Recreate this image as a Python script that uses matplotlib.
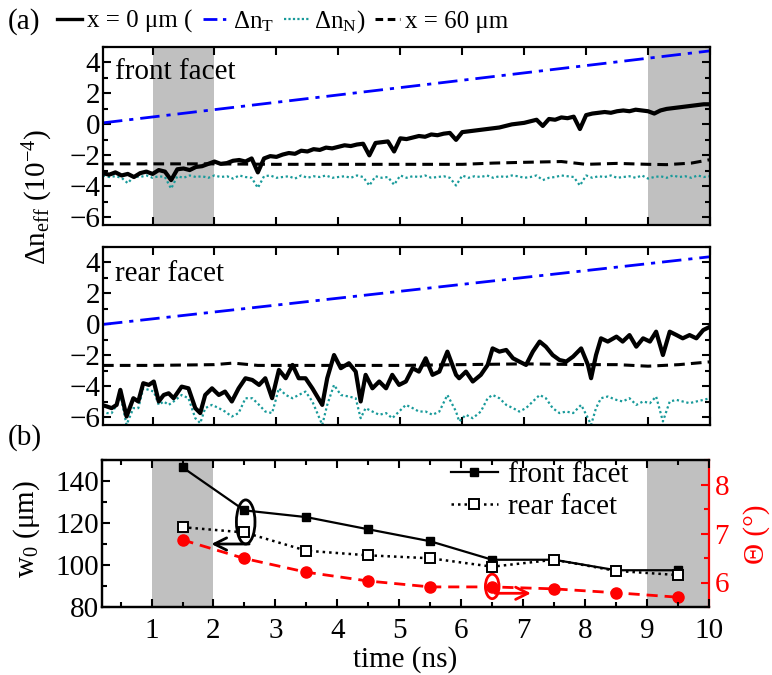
import numpy as np
import matplotlib
matplotlib.use('Agg')
import matplotlib.pyplot as plt
from matplotlib.patches import Ellipse
from matplotlib.ticker import MultipleLocator
from matplotlib.lines import Line2D

plt.rcParams['font.family'] = ['Liberation Serif', 'DejaVu Serif']
plt.rcParams['mathtext.fontset'] = 'custom'
plt.rcParams['mathtext.rm'] = 'Liberation Serif'
plt.rcParams['mathtext.it'] = 'Liberation Serif:italic'
plt.rcParams['mathtext.default'] = 'rm'
plt.rcParams['font.size'] = 21

# ---------------- data ----------------
# (a) front facet, sampled every 0.1 ns from 0.2 to 10 ns
t_front = np.round(np.linspace(0.2, 10.0, 99), 2)
front_x0 = [-3.15, -3.25, -3.10, -3.30, -3.20, -3.40, -3.15, -3.05, -3.20, -2.95,
            -3.05, -3.60, -2.90, -2.85, -2.95, -2.75, -2.70, -2.55, -2.40, -2.55,
            -2.50, -2.35, -2.30, -2.40, -2.20, -3.10, -2.20, -2.05, -2.10, -1.95,
            -1.85, -1.90, -1.70, -1.75, -1.60, -1.65, -1.50, -1.55, -1.45, -1.35,
            -1.40, -1.30, -1.25, -2.00, -1.20, -1.15, -1.10, -1.75, -0.90, -0.95,
            -0.85, -0.75, -0.80, -0.65, -0.70, -0.60, -0.55, -1.00, -0.50, -0.45,
            -0.40, -0.35, -0.30, -0.25, -0.20, -0.10, 0.00, 0.05, 0.10, 0.20,
            0.30, -0.10, 0.35, 0.30, 0.45, 0.40, 0.50, -0.30, 0.60, 0.70,
            0.75, 0.80, 0.75, 0.85, 0.90, 0.85, 0.95, 0.90, 0.85, 0.70,
            0.90, 1.00, 1.05, 1.10, 1.15, 1.20, 1.25, 1.30, 1.30]
front_N = [-3.30, -3.40, -3.35, -3.45, -3.80, -3.35, -3.40, -3.30, -3.45, -3.35,
           -3.40, -4.15, -3.35, -3.45, -3.30, -3.40, -3.35, -3.45, -3.30, -3.40,
           -3.35, -3.50, -3.30, -3.40, -3.45, -4.10, -3.35, -3.30, -3.45, -3.40,
           -3.35, -3.50, -3.30, -3.45, -3.35, -3.40, -3.30, -3.45, -3.40, -3.35,
           -3.45, -3.30, -3.40, -3.95, -3.35, -3.45, -3.40, -3.90, -3.30, -3.45,
           -3.35, -3.40, -3.30, -3.45, -3.40, -3.35, -3.45, -3.95, -3.30, -3.45,
           -3.35, -3.40, -3.30, -3.45, -3.35, -3.40, -3.30, -3.35, -3.45, -3.40,
           -3.30, -3.60, -3.45, -3.40, -3.30, -3.35, -3.40, -3.95, -3.30, -3.45,
           -3.35, -3.40, -3.30, -3.45, -3.40, -3.35, -3.45, -3.30, -3.50, -3.40,
           -3.35, -3.45, -3.30, -3.40, -3.35, -3.45, -3.30, -3.40, -3.35]
t_front60 = [0.2, 1.0, 2.0, 3.0, 4.0, 5.0, 6.0, 6.5, 7.0, 7.6, 8.0, 8.5, 9.0, 9.3, 9.7, 10.0]
front_x60 = [-2.55, -2.55, -2.55, -2.58, -2.58, -2.58, -2.58, -2.50, -2.45, -2.40, -2.58,
             -2.52, -2.58, -2.60, -2.50, -2.28]
t_T = [0.2, 10.0]
front_T = [0.10, 4.75]
rear_T = [0.00, 4.37]

# (a) rear facet
t_rear = [0.18, 0.26, 0.34, 0.42, 0.48, 0.58, 0.69, 0.77, 0.85, 0.94,
          1.02, 1.10, 1.18, 1.26, 1.34, 1.47, 1.58, 1.69, 1.77, 1.85,
          1.96, 2.07, 2.17, 2.28, 2.39, 2.50, 2.61, 2.72, 2.82, 2.93,
          3.04, 3.15, 3.26, 3.36, 3.47, 3.58, 3.74, 3.82, 3.93, 4.04,
          4.17, 4.28, 4.36, 4.44, 4.55, 4.66, 4.77, 4.87, 4.98, 5.09,
          5.20, 5.30, 5.41, 5.52, 5.63, 5.76, 5.90, 5.95, 6.06, 6.17,
          6.30, 6.41, 6.49, 6.60, 6.71, 6.82, 6.92, 7.03, 7.14, 7.25,
          7.35, 7.46, 7.57, 7.68, 7.79, 7.92, 8.03, 8.08, 8.16, 8.24,
          8.35, 8.49, 8.59, 8.70, 8.81, 8.92, 9.03, 9.13, 9.24, 9.35,
          9.46, 9.56, 9.67, 9.78, 9.89, 10.0]
rear_x0 = [-5.20, -5.30, -5.41, -5.20, -4.23, -5.95, -4.77, -4.98, -3.80, -3.91,
           -3.69, -4.98, -4.56, -4.45, -4.77, -4.02, -4.13, -5.41, -5.73, -4.56,
           -4.13, -4.56, -4.34, -4.98, -4.13, -3.48, -3.59, -3.91, -3.48, -4.77,
           -2.94, -3.48, -2.62, -3.48, -3.48, -4.13, -5.20, -3.48, -1.98, -2.83,
           -2.51, -3.05, -4.98, -3.26, -4.13, -3.69, -4.13, -3.26, -3.91, -3.69,
           -2.83, -3.05, -2.19, -3.26, -3.05, -1.76, -3.26, -3.48, -3.05, -3.69,
           -3.26, -2.62, -1.55, -1.76, -1.65, -2.19, -2.40, -2.62, -1.76, -1.11,
           -1.44, -1.98, -2.30, -2.40, -2.08, -1.55, -2.62, -3.48, -1.98, -0.90,
           -1.11, -0.79, -1.11, -0.69, -1.44, -0.90, -1.11, -0.47, -1.98, -0.47,
           -0.69, -0.90, -0.69, -0.90, -0.37, -0.15]
rear_N = [-5.63, -5.73, -5.73, -5.20, -4.56, -6.49, -5.41, -5.41, -4.13, -4.23,
          -4.34, -5.20, -4.98, -5.20, -4.98, -4.56, -4.77, -6.06, -6.38, -5.41,
          -5.20, -5.41, -5.63, -5.95, -5.73, -4.77, -4.77, -5.20, -5.63, -5.73,
          -4.13, -4.56, -4.77, -4.56, -4.34, -4.98, -6.49, -5.20, -3.91, -4.56,
          -4.66, -4.77, -6.06, -5.41, -5.63, -5.84, -5.73, -6.06, -5.63, -5.20,
          -5.41, -5.63, -5.63, -5.84, -5.63, -4.56, -5.63, -6.27, -5.84, -6.06,
          -5.63, -4.77, -4.56, -4.77, -5.20, -5.41, -5.63, -5.41, -4.98, -4.56,
          -4.77, -5.41, -5.73, -5.63, -5.73, -5.20, -6.06, -6.49, -5.41, -4.77,
          -4.66, -4.88, -4.98, -4.77, -5.20, -4.98, -5.09, -4.66, -6.27, -4.98,
          -4.88, -4.98, -5.09, -4.98, -4.88, -4.77]
t_rear60 = [0.2, 1.0, 2.0, 2.3, 2.7, 4.0, 5.0, 6.0, 7.0, 8.0, 8.5, 9.0, 9.5, 10.0]
rear_x60 = [-2.65, -2.65, -2.60, -2.50, -2.65, -2.65, -2.65, -2.60, -2.55, -2.60,
            -2.60, -2.70, -2.60, -2.42]

# (b)
t_b = [1.5, 2.5, 3.5, 4.5, 5.5, 6.5, 7.5, 8.5, 9.5]
w0_front = [146.5, 126.0, 122.8, 117.0, 111.3, 102.5, 102.5, 97.5, 97.5]
w0_rear = [118.0, 115.5, 106.8, 104.6, 103.2, 99.2, 102.5, 97.2, 95.2]
theta = [6.87, 6.49, 6.21, 6.03, 5.91, 5.91, 5.87, 5.79, 5.70]

shade_spans = [(1, 2), (9, 10)]

# ---------------- plotting ----------------
GREY = '#c0c0c0'
BLUE = '#0000ff'
TEAL = '#189a9a'
RED = '#ff0000'
DASHDOT = (7, 2.5, 1.5, 2.5)

fig = plt.figure(figsize=(7.72, 6.75), dpi=100)
ax1 = fig.add_axes([103/772, 1-225/675, 607/772, 178/675])
ax2 = fig.add_axes([103/772, 1-425/675, 607/772, 178/675])
ax4 = fig.add_axes([102/772, 1-607/675, 607/772, 147/675])   # right (Theta) axis, drawn underneath
ax3 = fig.add_axes([102/772, 1-607/675, 607/772, 147/675])   # left (w0) axis on top

def style_axis(ax, right=True):
    for s in ax.spines.values():
        s.set_linewidth(1.6)
    ax.tick_params(which='both', direction='in', top=True, right=right, width=1.5)
    ax.tick_params(which='major', length=6)
    ax.tick_params(which='minor', length=3.5)

for ax in (ax1, ax2):
    ax.set_xlim(0.2, 10)
    ax.set_ylim(-6.5, 5)
    ax.xaxis.set_major_locator(MultipleLocator(1))
    ax.yaxis.set_major_locator(MultipleLocator(2))
    ax.yaxis.set_minor_locator(MultipleLocator(1))
    ax.set_xticklabels([])
    style_axis(ax)
    ax.tick_params(axis='y', which='major', pad=2)

for a, b in shade_spans:
    ax1.axvspan(a, b, color=GREY, lw=0, zorder=0)

lw_main = 3.0
ax1.plot(t_T, front_T, color=BLUE, lw=2.0, dashes=DASHDOT)
ax1.plot(t_front, front_N, color=TEAL, lw=1.6, ls=(0, (1, 1.2)))
ax1.plot(t_front60, front_x60, color='black', lw=2.2, dashes=(3.5, 2))
ax1.plot(t_front, front_x0, color='black', lw=lw_main)
ax1.text(0.02, 0.82, 'front facet', transform=ax1.transAxes, ha='left', va='baseline')

ax2.plot(t_T, rear_T, color=BLUE, lw=2.0, dashes=DASHDOT)
ax2.plot(t_rear, rear_N, color=TEAL, lw=1.6, ls=(0, (1, 1.2)))
ax2.plot(t_rear60, rear_x60, color='black', lw=2.2, dashes=(3.5, 2))
ax2.plot(t_rear, rear_x0, color='black', lw=lw_main)
ax2.text(0.02, 0.81, 'rear facet', transform=ax2.transAxes, ha='left', va='baseline')

# panel (b): Theta axis (underneath, carries the grey bands)
ax4.set_xlim(0.2, 10)
ax4.set_ylim(5.5, 8.5)
for a, b in shade_spans:
    ax4.axvspan(a, b, color=GREY, lw=0, zorder=0)
ax4.plot(t_b, theta, color=RED, lw=2.0, dashes=(4, 2.5), marker='o', ms=8, mfc=RED, mec=RED)
ax4.yaxis.tick_right()
ax4.yaxis.set_label_position('right')
ax4.yaxis.set_major_locator(MultipleLocator(1))
ax4.yaxis.set_minor_locator(MultipleLocator(0.5))
ax4.set_xticks([])
for s in ax4.spines.values():
    s.set_linewidth(1.6)
ax4.spines['right'].set_color(RED)
ax4.tick_params(axis='y', which='both', direction='in', colors=RED, width=1.5, pad=4,
                left=False, right=True)
ax4.tick_params(axis='y', which='major', length=6)
ax4.tick_params(axis='y', which='minor', length=3.5)
ax4.add_patch(Ellipse((6.5, 5.92), 0.22, 0.5, fill=False, ec=RED, lw=2, zorder=5))
ax4.annotate('', xy=(7.17, 5.78), xytext=(6.5, 5.78),
             arrowprops=dict(arrowstyle='->', lw=2, color=RED, mutation_scale=22))

# w0 axis on top
ax3.patch.set_visible(False)
ax3.set_xlim(0.2, 10)
ax3.set_ylim(80, 150)
ax3.xaxis.set_major_locator(MultipleLocator(1))
ax3.xaxis.set_minor_locator(MultipleLocator(0.5))
ax3.yaxis.set_major_locator(MultipleLocator(20))
ax3.yaxis.set_minor_locator(MultipleLocator(10))
style_axis(ax3, right=False)
ax3.spines['right'].set_visible(False)
ax3.tick_params(axis='x', which='major', pad=8)
ax3.tick_params(axis='y', which='major', pad=2)

h_front, = ax3.plot(t_b, w0_front, color='black', lw=1.6, marker='s', ms=6,
                    mfc='black', mec='black', label='front facet')
h_rear, = ax3.plot(t_b, w0_rear, color='black', lw=1.8, ls=(0, (1, 1.6)), marker='s', ms=7,
                   mfc='white', mec='black', mew=1.4, label='rear facet')

ax3.add_patch(Ellipse((2.52, 120.5), 0.3, 21, fill=False, ec='black', lw=2, zorder=5))
ax3.annotate('', xy=(1.92, 110.0), xytext=(2.62, 110.0),
             arrowprops=dict(arrowstyle='->', lw=2, color='black', mutation_scale=22))

ax3.legend(handles=[h_front, h_rear], loc='upper left', bbox_to_anchor=(0.575, 0.99),
           frameon=False, handlelength=1.6, handletextpad=0.35, labelspacing=0.2,
           borderpad=0, borderaxespad=0)

# texts
fig.text(8/772, 1-22/675, '(a)', ha='left', va='center')
fig.text(8/772, 1-438/675, '(b)', ha='left', va='center')
fig.text(38/772, 1-197/675, r'Δn$_{\mathrm{eff}}$ (10$^{-4}$)', rotation=90,
         ha='center', va='center')
fig.text(27/772, 1-529/675, r'w$_0$ (μm)', rotation=90, ha='center', va='center')
fig.text(757/772, 1-534/675, 'Θ (°)', rotation=90, ha='center', va='center', color=RED)
fig.text(405/772, 1-660/675, 'time (ns)', ha='center', va='center')

# top legend
leg_handles = [Line2D([], [], color='black', lw=2.4),
               Line2D([], [], color=BLUE, lw=2.0, dashes=(5, 2, 1.2, 2)),
               Line2D([], [], color=TEAL, lw=1.6, ls=(0, (1, 1.0))),
               Line2D([], [], color='black', lw=2.2, dashes=(2.5, 1.5))]
leg_labels = ['x = 0 μm (', r'Δn$_{\mathrm{T}}$', r'Δn$_{\mathrm{N}}$)', 'x = 60 μm']
fig.legend(leg_handles, leg_labels, loc='center', bbox_to_anchor=(283/772, 1-22/675),
           ncol=4, frameon=False, handlelength=1.0, handletextpad=0.2, columnspacing=0.4,
           borderpad=0, fontsize=18)

fig.savefig('out.png', dpi=100)
